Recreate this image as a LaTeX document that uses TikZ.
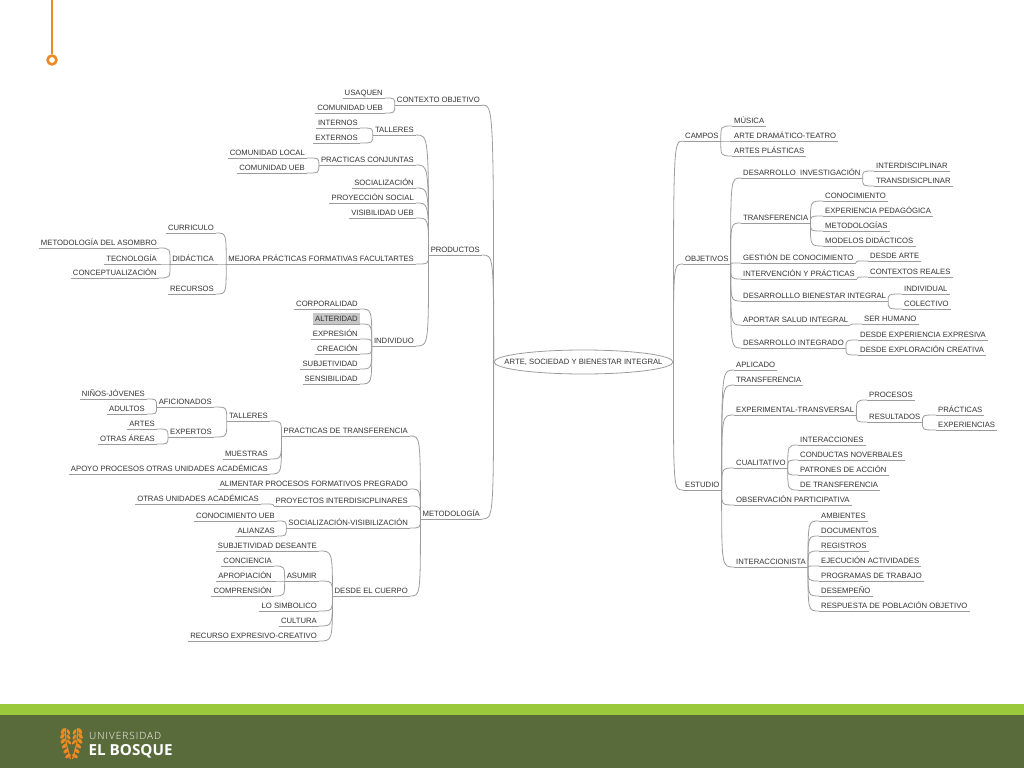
\documentclass[tikz,border=0pt]{standalone}
\usepackage{fontspec}
\setmainfont{Liberation Sans}
\newfontfamily\logofont{Open Sans}
\newfontfamily\logowide[LetterSpace=10]{Open Sans Light}
\usetikzlibrary{shapes.geometric}
\definecolor{inkgray}{HTML}{333333}
\definecolor{linegray}{HTML}{9C9C9C}
\definecolor{barolive}{HTML}{5A6B3B}
\definecolor{bargreen}{HTML}{9ACA3C}
\definecolor{accentorange}{HTML}{EE8A24}
\tikzset{
  topic/.style={font=\fontsize{7.7}{8}\selectfont, text=inkgray, inner xsep=2pt, inner ysep=2.6pt,
    text height=5.6pt, text depth=0pt,
    append after command={(\tikzlastnode.south west) edge[draw=linegray, line width=.8pt] (\tikzlastnode.south east)}},
  ltopic/.style={topic, anchor=south east},
  rtopic/.style={topic, anchor=south west},
  link/.style={draw=linegray, line width=.8pt,
    to path={.. controls (\tikztotarget |- \tikztostart) and (\tikztotarget |- \tikztostart) .. (\tikztotarget)}},
  leaf/.style={fill=accentorange, draw=none}
}
\begin{document}
\begin{tikzpicture}[x=1pt,y=-1pt]
  \useasboundingbox (0,0) rectangle (1024,768);
  % footer and corner mark
  \fill[bargreen] (0,704) rectangle (1024,715);
  \fill[barolive] (0,715) rectangle (1024,768);
  \draw[accentorange, line width=2.6pt] (52,0) -- (52,54);
  \draw[accentorange, line width=2.6pt, fill=white] (52,60) circle (4.4);
  % logo
  \foreach \s in {-1,1} {
    \begin{scope}[shift={(71.5,743)}, xscale=\s]
      \draw[accentorange, line width=1.2pt] (1,16) .. controls (3,8) and (6.5,2) .. (6,-15);
      \foreach \x/\y/\a in {8.5/-12/60, 9/-7/55, 8.5/-2/50, 7/3/45, 5.5/8/40, 3.5/13/35}
        \fill[leaf] (\x,\y) ellipse[x radius=3.2, y radius=1.7, rotate=-\a];
      \foreach \x/\y/\a in {3/-11/115, 3/-6/125, 2.5/-1/130}
        \fill[leaf] (\x,\y) ellipse[x radius=3, y radius=1.3, rotate=-\a];
    \end{scope}
  }
  \node[anchor=base west, inner sep=0, text=white, font=\logowide\fontsize{10}{11}\selectfont] (logotop) at (89,739) {UNIVERSIDAD};
  \node[anchor=base west, inner sep=0, text=white, font=\logofont\bfseries\fontsize{15.2}{16}\selectfont] (logobottom) at (88.5,755) {EL BOSQUE};
  % root
  \node[ellipse, draw=linegray, line width=.8pt, minimum width=179pt, minimum height=24pt, inner sep=0,
    text=inkgray, font=\fontsize{7.7}{8}\selectfont] (root) at (583.5,362) {\makebox[0pt]{ARTE, SOCIEDAD Y BIENESTAR INTEGRAL}};
  % left side
  \path
    (482,105) node[ltopic] (contexto) {CONTEXTO OBJETIVO}
    (385,98) node[ltopic] (usaquen) {USAQUEN}
    (385,113) node[ltopic] (comueb) {COMUNIDAD UEB}
    (482,255) node[ltopic] (productos) {PRODUCTOS}
    (416,135) node[ltopic] (talleres) {TALLERES}
    (360,128) node[ltopic] (internos) {INTERNOS}
    (360,143) node[ltopic] (externos) {EXTERNOS}
    (416,165) node[ltopic] (conjuntas) {PRACTICAS CONJUNTAS}
    (307,158) node[ltopic] (comlocal) {COMUNIDAD LOCAL}
    (307,173) node[ltopic] (comuebdos) {COMUNIDAD UEB}
    (416,188) node[ltopic] (socializacion) {SOCIALIZACIÓN}
    (416,203) node[ltopic] (proyeccion) {PROYECCIÓN SOCIAL}
    (416,218) node[ltopic] (visibilidad) {VISIBILIDAD UEB}
    (416,264) node[ltopic] (mejora) {MEJORA PRÁCTICAS FORMATIVAS FACULTARTES}
    (216,233) node[ltopic] (curriculo) {CURRICULO}
    (216,264) node[ltopic] (didactica) {DIDÁCTICA}
    (216,294) node[ltopic] (recursos) {RECURSOS}
    (159,248) node[ltopic] (asombro) {METODOLOGÍA DEL ASOMBRO}
    (159,264) node[ltopic] (tecnologia) {TECNOLOGÍA}
    (159,278) node[ltopic] (conceptual) {CONCEPTUALIZACIÓN}
    (416,346) node[ltopic] (individuo) {INDIVIDUO}
    (360,309) node[ltopic] (corporalidad) {CORPORALIDAD}
    (360,324) node[ltopic, fill=black!22] (alteridad) {ALTERIDAD}
    (360,339) node[ltopic] (expresion) {EXPRESIÓN}
    (360,354) node[ltopic] (creacion) {CREACIÓN}
    (360,369) node[ltopic] (subjetividad) {SUBJETIVIDAD}
    (360,384) node[ltopic] (sensibilidad) {SENSIBILIDAD}
    (482,519) node[ltopic] (metodologia) {METODOLOGÍA}
    (410,436) node[ltopic] (transfprac) {PRACTICAS DE TRANSFERENCIA}
    (270,421) node[ltopic] (tallerespr) {TALLERES}
    (214,407) node[ltopic] (aficionados) {AFICIONADOS}
    (214,437) node[ltopic] (expertos) {EXPERTOS}
    (147,399) node[ltopic] (ninos) {NIÑOS-JÓVENES}
    (147,414) node[ltopic] (adultos) {ADULTOS}
    (157,429) node[ltopic] (artes) {ARTES}
    (157,444) node[ltopic] (otrasareas) {OTRAS ÁREAS}
    (270,459) node[ltopic] (muestras) {MUESTRAS}
    (270,474) node[ltopic] (apoyo) {APOYO PROCESOS OTRAS UNIDADES ACADÉMICAS}
    (410,489) node[ltopic] (alimentar) {ALIMENTAR PROCESOS FORMATIVOS PREGRADO}
    (410,506) node[ltopic] (proyectos) {PROYECTOS INTERDISICPLINARES}
    (261,504) node[ltopic] (otrasunid) {OTRAS UNIDADES ACADÉMICAS}
    (410,528) node[ltopic] (socvis) {SOCIALIZACIÓN-VISIBILIZACIÓN}
    (277,521) node[ltopic] (conocueb) {CONOCIMIENTO UEB}
    (277,536) node[ltopic] (alianzas) {ALIANZAS}
    (410,596) node[ltopic] (cuerpo) {DESDE EL CUERPO}
    (319,551) node[ltopic] (deseante) {SUBJETIVIDAD DESEANTE}
    (319,581) node[ltopic] (asumir) {ASUMIR}
    (274,566) node[ltopic] (conciencia) {CONCIENCIA}
    (274,581) node[ltopic] (apropiacion) {APROPIACIÓN}
    (274,596) node[ltopic] (comprension) {COMPRENSIÓN}
    (319,611) node[ltopic] (simbolico) {LO SIMBOLICO}
    (319,626) node[ltopic] (cultura) {CULTURA}
    (319,641) node[ltopic] (expresivo) {RECURSO EXPRESIVO-CREATIVO};
  % right side
  \path
    (683,141) node[rtopic] (campos) {CAMPOS}
    (732,126) node[rtopic] (musica) {MÚSICA}
    (732,141) node[rtopic] (teatro) {ARTE DRAMÁTICO-TEATRO}
    (732,156) node[rtopic] (plasticas) {ARTES PLÁSTICAS}
    (683,264) node[rtopic] (objetivos) {OBJETIVOS}
    (741,178) node[rtopic] (investigacion) {DESARROLLO~ INVESTIGACIÓN}
    (874,171) node[rtopic] (interdis) {INTERDISCIPLINAR}
    (874,186) node[rtopic] (transdis) {TRANSDISICPLINAR}
    (741,223) node[rtopic] (transferencia) {TRANSFERENCIA}
    (823,201) node[rtopic] (conocimiento) {CONOCIMIENTO}
    (823,216) node[rtopic] (pedagogica) {EXPERIENCIA PEDAGÓGICA}
    (823,231) node[rtopic] (metodologias) {METODOLOGÍAS}
    (823,246) node[rtopic] (modelos) {MODELOS DIDÁCTICOS}
    (741,263) node[rtopic] (gestion) {GESTIÓN DE CONOCIMIENTO}
    (868,261) node[rtopic] (desdearte) {DESDE ARTE}
    (741,279) node[rtopic] (intervencion) {INTERVENCIÓN Y PRÁCTICAS}
    (868,277) node[rtopic] (contextos) {CONTEXTOS REALES}
    (741,301) node[rtopic] (bienestar) {DESARROLLLO BIENESTAR INTEGRAL}
    (902,294) node[rtopic] (individual) {INDIVIDUAL}
    (902,309) node[rtopic] (colectivo) {COLECTIVO}
    (741,325) node[rtopic] (salud) {APORTAR SALUD INTEGRAL}
    (862,324) node[rtopic] (humano) {SER HUMANO}
    (741,348) node[rtopic] (integrado) {DESARROLLO INTEGRADO}
    (858,340) node[rtopic] (expresiva) {DESDE EXPERIENCIA EXPRESIVA}
    (858,355) node[rtopic] (creativa) {DESDE EXPLORACIÓN CREATIVA}
    (683,490) node[rtopic] (estudio) {ESTUDIO}
    (734,370) node[rtopic] (aplicado) {APLICADO}
    (734,385) node[rtopic] (transfest) {TRANSFERENCIA}
    (734,415) node[rtopic] (experimental) {EXPERIMENTAL-TRANSVERSAL}
    (867,400) node[rtopic] (procesos) {PROCESOS}
    (867,422) node[rtopic] (resultados) {RESULTADOS}
    (936,415) node[rtopic] (practicas) {PRÁCTICAS}
    (936,430) node[rtopic] (experiencias) {EXPERIENCIAS}
    (734,468) node[rtopic] (cualitativo) {CUALITATIVO}
    (798,445) node[rtopic] (interacciones) {INTERACCIONES}
    (798,460) node[rtopic] (conductas) {CONDUCTAS NOVERBALES}
    (798,475) node[rtopic] (patrones) {PATRONES DE ACCIÓN}
    (798,490) node[rtopic] (detransf) {DE TRANSFERENCIA}
    (734,505) node[rtopic] (observacion) {OBSERVACIÓN PARTICIPATIVA}
    (734,567) node[rtopic] (interaccionista) {INTERACCIONISTA}
    (819,521) node[rtopic] (ambientes) {AMBIENTES}
    (819,536) node[rtopic] (documentos) {DOCUMENTOS}
    (819,551) node[rtopic] (registros) {REGISTROS}
    (819,566) node[rtopic] (ejecucion) {EJECUCIÓN ACTIVIDADES}
    (819,581) node[rtopic] (programas) {PROGRAMAS DE TRABAJO}
    (819,596) node[rtopic] (desempeno) {DESEMPEÑO}
    (819,611) node[rtopic] (respuesta) {RESPUESTA DE POBLACIÓN OBJETIVO};
  % branches, left side
  \begin{scope}
    \foreach \a in {contexto,productos,metodologia}
      \draw[link] (\a.south east) to (root.west);
    \foreach \a in {talleres,conjuntas,socializacion,proyeccion,visibilidad,mejora,individuo}
      \draw[link] (\a.south east) to (productos.south west);
    \foreach \a in {usaquen,comueb}
      \draw[link] (\a.south east) to (contexto.south west);
    \foreach \a in {internos,externos}
      \draw[link] (\a.south east) to (talleres.south west);
    \foreach \a in {comlocal,comuebdos}
      \draw[link] (\a.south east) to (conjuntas.south west);
    \foreach \a in {curriculo,didactica,recursos}
      \draw[link] (\a.south east) to (mejora.south west);
    \foreach \a in {asombro,tecnologia,conceptual}
      \draw[link] (\a.south east) to (didactica.south west);
    \foreach \a in {corporalidad,alteridad,expresion,creacion,subjetividad,sensibilidad}
      \draw[link] (\a.south east) to (individuo.south west);
    \foreach \a in {transfprac,alimentar,proyectos,socvis,cuerpo}
      \draw[link] (\a.south east) to (metodologia.south west);
    \foreach \a in {tallerespr,muestras,apoyo}
      \draw[link] (\a.south east) to (transfprac.south west);
    \foreach \a in {aficionados,expertos}
      \draw[link] (\a.south east) to (tallerespr.south west);
    \foreach \a in {ninos,adultos}
      \draw[link] (\a.south east) to (aficionados.south west);
    \foreach \a in {artes,otrasareas}
      \draw[link] (\a.south east) to (expertos.south west);
    \draw[link] (otrasunid.south east) to (proyectos.south west);
    \foreach \a in {conocueb,alianzas}
      \draw[link] (\a.south east) to (socvis.south west);
    \foreach \a in {deseante,asumir,simbolico,cultura,expresivo}
      \draw[link] (\a.south east) to (cuerpo.south west);
    \foreach \a in {conciencia,apropiacion,comprension}
      \draw[link] (\a.south east) to (asumir.south west);
  % branches, right side
    \foreach \a in {campos,objetivos,estudio}
      \draw[link] (\a.south west) to (root.east);
    \foreach \a in {musica,teatro,plasticas}
      \draw[link] (\a.south west) to (campos.south east);
    \foreach \a in {investigacion,transferencia,gestion,intervencion,bienestar,salud,integrado}
      \draw[link] (\a.south west) to (objetivos.south east);
    \foreach \a in {interdis,transdis}
      \draw[link] (\a.south west) to (investigacion.south east);
    \foreach \a in {conocimiento,pedagogica,metodologias,modelos}
      \draw[link] (\a.south west) to (transferencia.south east);
    \draw[link] (desdearte.south west) to (gestion.south east);
    \draw[link] (contextos.south west) to (intervencion.south east);
    \foreach \a in {individual,colectivo}
      \draw[link] (\a.south west) to (bienestar.south east);
    \draw[link] (humano.south west) to (salud.south east);
    \foreach \a in {expresiva,creativa}
      \draw[link] (\a.south west) to (integrado.south east);
    \foreach \a in {aplicado,transfest,experimental,cualitativo,observacion,interaccionista}
      \draw[link] (\a.south west) to (estudio.south east);
    \foreach \a in {procesos,resultados}
      \draw[link] (\a.south west) to (experimental.south east);
    \foreach \a in {practicas,experiencias}
      \draw[link] (\a.south west) to (resultados.south east);
    \foreach \a in {interacciones,conductas,patrones,detransf}
      \draw[link] (\a.south west) to (cualitativo.south east);
    \foreach \a in {ambientes,documentos,registros,ejecucion,programas,desempeno,respuesta}
      \draw[link] (\a.south west) to (interaccionista.south east);
  \end{scope}
\end{tikzpicture}
\end{document}
